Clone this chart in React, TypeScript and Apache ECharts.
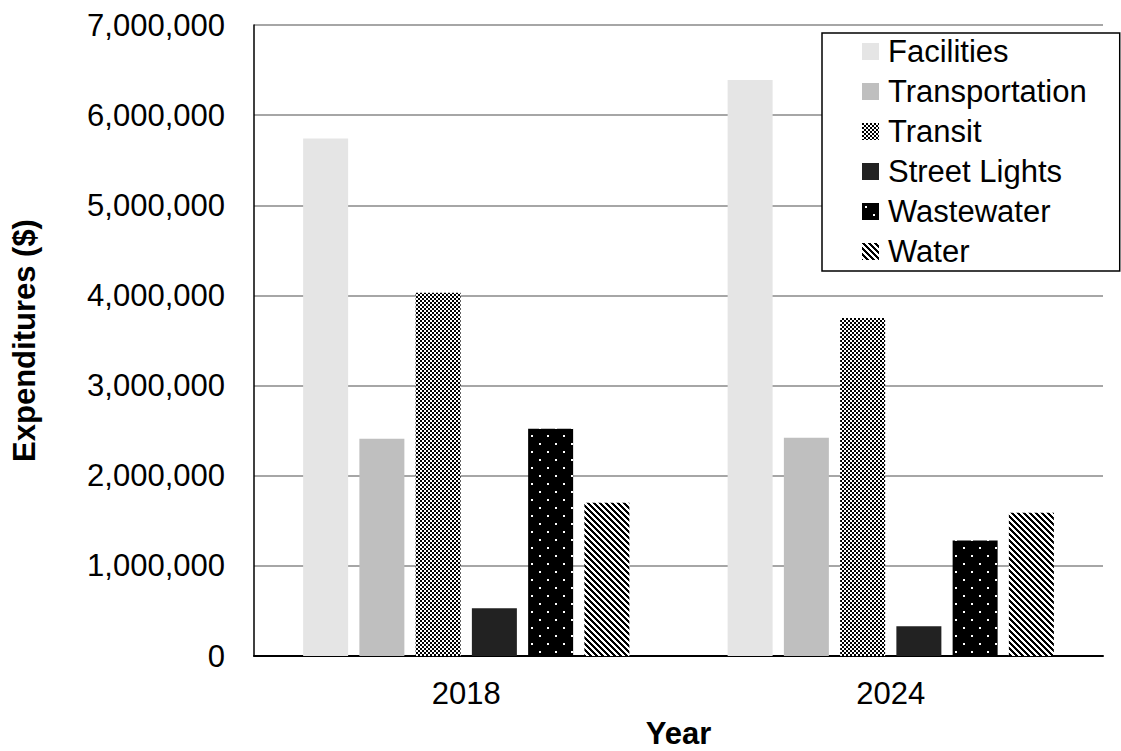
import React, { useEffect, useRef } from "react";
import * as echarts from "echarts";

// Expenditures by department and year
const years = ["2018", "2024"];
const departments = [
  "Facilities",
  "Transportation",
  "Transit",
  "Street Lights",
  "Wastewater",
  "Water",
];
const facilities = [5740000, 6390000];
const transportation = [2410000, 2420000];
const transit = [4030000, 3750000];
const streetLights = [530000, 330000];
const wastewater = [2520000, 1280000];
const water = [1700000, 1590000];

const FONT = "'Liberation Sans', Arial, Helvetica, sans-serif";

// Small tiled fills built on a canvas and used as ECharts image patterns
function makeTile(
  size: number,
  paint: (ctx: CanvasRenderingContext2D) => void
) {
  const c = document.createElement("canvas");
  c.width = size;
  c.height = size;
  const ctx = c.getContext("2d")!;
  paint(ctx);
  return {
    image: c,
    repeat: "repeat",
    imageWidth: size,
    imageHeight: size,
  } as any;
}

function checkerFill() {
  return makeTile(4, (ctx) => {
    ctx.fillStyle = "#ffffff";
    ctx.fillRect(0, 0, 4, 4);
    ctx.fillStyle = "#000000";
    ctx.fillRect(0, 0, 2, 2);
    ctx.fillRect(2, 2, 2, 2);
  });
}

function dottedFill() {
  return makeTile(16, (ctx) => {
    ctx.fillStyle = "#000000";
    ctx.fillRect(0, 0, 16, 16);
    ctx.fillStyle = "#ffffff";
    ctx.fillRect(3, 3, 2, 2);
    ctx.fillRect(11, 11, 2, 2);
  });
}

function stripeFill() {
  const n = 6;
  return makeTile(n, (ctx) => {
    ctx.fillStyle = "#ffffff";
    ctx.fillRect(0, 0, n, n);
    ctx.fillStyle = "#000000";
    for (let y = 0; y < n; y++) {
      for (let x = 0; x < n; x++) {
        if ((((x - y) % n) + n) % n < 3) ctx.fillRect(x, y, 1, 1);
      }
    }
  });
}

export default function App() {
  const ref = useRef<HTMLDivElement>(null);

  useEffect(() => {
    if (!ref.current) return;
    const chart = echarts.init(ref.current, undefined, { renderer: "svg" });

    const fills = [
      "#e5e5e5",
      "#bfbfbf",
      checkerFill(),
      "#222222",
      dottedFill(),
      stripeFill(),
    ];
    const values = [
      facilities,
      transportation,
      transit,
      streetLights,
      wastewater,
      water,
    ];

    chart.setOption({
      animation: false,
      backgroundColor: "#ffffff",
      textStyle: { fontFamily: FONT },
      grid: {
        left: 254,
        right: 18,
        top: 25,
        bottom: 95,
        containLabel: false,
        outerBoundsMode: "none",
      },
      legend: {
        left: 822,
        top: 33,
        orient: "vertical",
        icon: "rect",
        itemWidth: 17,
        itemHeight: 17,
        itemGap: 9,
        padding: [3, 33, 4, 40],
        borderColor: "#000000",
        borderWidth: 1.5,
        backgroundColor: "#ffffff",
        textStyle: {
          fontFamily: FONT,
          fontSize: 31,
          lineHeight: 31,
          color: "#000000",
          padding: [0, 0, 0, 4],
        },
        data: departments,
      },
      xAxis: {
        type: "category",
        data: years,
        name: "Year",
        nameLocation: "middle",
        nameGap: 62,
        nameTextStyle: {
          fontFamily: FONT,
          fontSize: 31,
          lineHeight: 31,
          fontWeight: "bold",
          color: "#000000",
        },
        axisLine: { lineStyle: { color: "#000000", width: 2 } },
        axisTick: { show: false },
        axisLabel: {
          margin: 22,
          fontFamily: FONT,
          fontSize: 31,
          color: "#000000",
        },
      },
      yAxis: {
        type: "value",
        min: 0,
        max: 7000000,
        interval: 1000000,
        name: "Expenditures ($)",
        nameLocation: "middle",
        nameGap: 214,
        nameRotate: 90,
        nameTextStyle: {
          fontFamily: FONT,
          fontSize: 31,
          fontWeight: "bold",
          color: "#000000",
        },
        axisLine: { show: true, lineStyle: { color: "#000000", width: 1.5 } },
        axisTick: { show: false },
        axisLabel: {
          margin: 29,
          fontFamily: FONT,
          fontSize: 31,
          color: "#000000",
          formatter: (v: number) => v.toLocaleString("en-US"),
        },
        splitLine: { lineStyle: { color: "#888888", width: 1.5 } },
      },
      series: departments.map((name, i) => ({
        name,
        type: "bar",
        data: values[i],
        barWidth: 45,
        barGap: "25%",
        itemStyle: { color: fills[i] },
        emphasis: { disabled: true },
      })),
    });

    return () => chart.dispose();
  }, []);

  return (
    <div
      ref={ref}
      style={{
        position: "fixed",
        left: 0,
        top: 0,
        width: 1121,
        height: 751,
        background: "#ffffff",
      }}
    />
  );
}
